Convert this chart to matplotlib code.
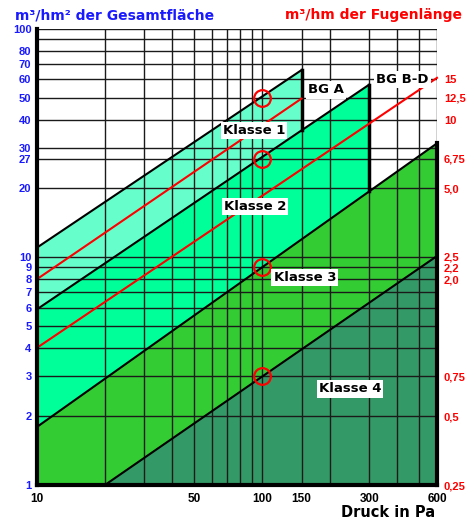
import numpy as np
import matplotlib
matplotlib.use('Agg')
import matplotlib.pyplot as plt

plt.rcParams['font.family'] = ['Liberation Sans', 'DejaVu Sans']
plt.rcParams['font.weight'] = 'bold'
WIDE = ['DejaVu Sans']

# class boundary lines (endpoints, log-log straight lines)
k1_x, k1_y = [10, 150], [11.0, 66.0]
k2_x, k2_y = [10, 300], [5.9, 57.0]
k3_x, k3_y = [10, 600], [1.8, 31.5]
k4_x, k4_y = [20, 600], [1.0, 10.1]

# joint length reference lines
bga_x, bga_y = [10, 150], [8.0, 49.5]
bgbd_x, bgbd_y = [10, 600], [4.0, 61.0]

# reference points at 100 Pa
ref_p = [100, 100, 100, 100]
ref_q = [50, 27, 9, 3]

x_grid = [20, 30, 40, 50, 60, 70, 80, 90, 100, 150, 200, 300, 400, 500, 600]
y_grid = [1, 2, 3, 4, 5, 6, 7, 8, 9, 10, 20, 27, 30, 40, 50, 60, 70, 80, 90, 100]

x_ticks = [10, 50, 100, 150, 300, 600]
y_ticks = [1, 2, 3, 4, 5, 6, 7, 8, 9, 10, 20, 27, 30, 40, 50, 60, 70, 80, 100]
r_ticks = [1, 2, 3, 8, 9, 10, 20, 27, 40, 50, 60]
r_labels = ['0,25', '0,5', '0,75', '2,0', '2,2', '2,5', '5,0', '6,75', '10', '12,5', '15']

colors = ['#66FFCC', '#00FF99', '#33CC33', '#339966']


def at(xs, ys, x):
    return 10 ** np.interp(np.log10(x), np.log10(xs), np.log10(ys))


fig = plt.figure(figsize=(4.75, 5.25), dpi=100)
ax = fig.add_axes([0.078, 0.076, 0.842, 0.869])
ax.set_xscale('log')
ax.set_yscale('log')
ax.set_xlim(10, 600)
ax.set_ylim(1, 100)

# fills, each one covering the lower part of the previous
for (lx, ly), c in zip([(k1_x, k1_y), (k2_x, k2_y), (k3_x, k3_y), (k4_x, k4_y)], colors):
    ax.fill([lx[0], lx[0], lx[1], lx[1]], [1, ly[0], ly[1], 1], color=c, lw=0, zorder=1)

for xv in x_grid:
    ax.axvline(xv, color='#1a1a1a', lw=1.0, zorder=2)
for yv in y_grid:
    ax.axhline(yv, color='#1a1a1a', lw=1.0, zorder=2)

for lx, ly in [(k1_x, k1_y), (k2_x, k2_y), (k3_x, k3_y), (k4_x, k4_y)]:
    ax.plot(lx, ly, color='black', lw=1.5, zorder=3)

# closing edges of the bands
ax.plot([150, 150], [k1_y[1], at(k2_x, k2_y, 150)], color='black', lw=2.5, zorder=3)
ax.plot([300, 300], [k2_y[1], at(k3_x, k3_y, 300)], color='black', lw=2.5, zorder=3)
ax.plot([600, 600], [k3_y[1], 1], color='black', lw=3, zorder=3, clip_on=False)

ax.plot(bga_x, bga_y, color='red', lw=1.5, zorder=4)
ax.plot(bgbd_x, bgbd_y, color='red', lw=1.5, zorder=4, clip_on=False)

ax.plot(ref_p, ref_q, 'o', ms=12, mfc='none', mec='red', mew=1.6, zorder=5)

box = dict(facecolor='white', edgecolor='none', pad=1.5)
lab = dict(ha='center', va='center', fontsize=9.5, family=WIDE, bbox=box, zorder=6)
ax.text(92, 35.8, 'Klasse 1', **lab)
ax.text(93, 16.6, 'Klasse 2', **lab)
ax.text(155, 8.1, 'Klasse 3', **lab)
ax.text(246, 2.64, 'Klasse 4', **lab)
lab['ha'] = 'left'
ax.text(160, 54, 'BG A', **lab)
ax.text(322, 60, 'BG B-D', **lab)

for s in ['top', 'right']:
    ax.spines[s].set_visible(False)
ax.spines['left'].set_linewidth(3)
ax.spines['bottom'].set_linewidth(3)
ax.spines['left'].set_zorder(7)
ax.spines['bottom'].set_zorder(7)

ax.minorticks_off()
ax.set_xticks(x_ticks)
ax.set_xticklabels([str(v) for v in x_ticks])
ax.set_yticks(y_ticks)
ax.set_yticklabels([str(v) for v in y_ticks])
ax.tick_params(axis='x', length=0, pad=6, labelsize=8.5)
ax.tick_params(axis='y', length=0, pad=4, labelsize=8, labelcolor='#1a1aff')

ax2 = ax.twinx()
ax2.set_yscale('log')
ax2.set_ylim(1, 100)
ax2.minorticks_off()
ax2.set_yticks(r_ticks)
ax2.set_yticklabels(r_labels)
ax2.tick_params(axis='y', length=0, pad=5, labelsize=8, labelcolor='red')
for s in ax2.spines.values():
    s.set_visible(False)

fig.text(0.032, 0.971, 'm³/hm² der Gesamtfläche', color='#1a1aff', fontsize=10,
         family=WIDE, ha='left', va='center')
fig.text(0.973, 0.971, 'm³/hm der Fugenlänge', color='red', fontsize=10,
         family=WIDE, ha='right', va='center')
fig.text(0.916, 0.023, 'Druck in Pa', color='black', fontsize=10.5,
         family=WIDE, ha='right', va='center')

fig.savefig('out.png', dpi=100)
